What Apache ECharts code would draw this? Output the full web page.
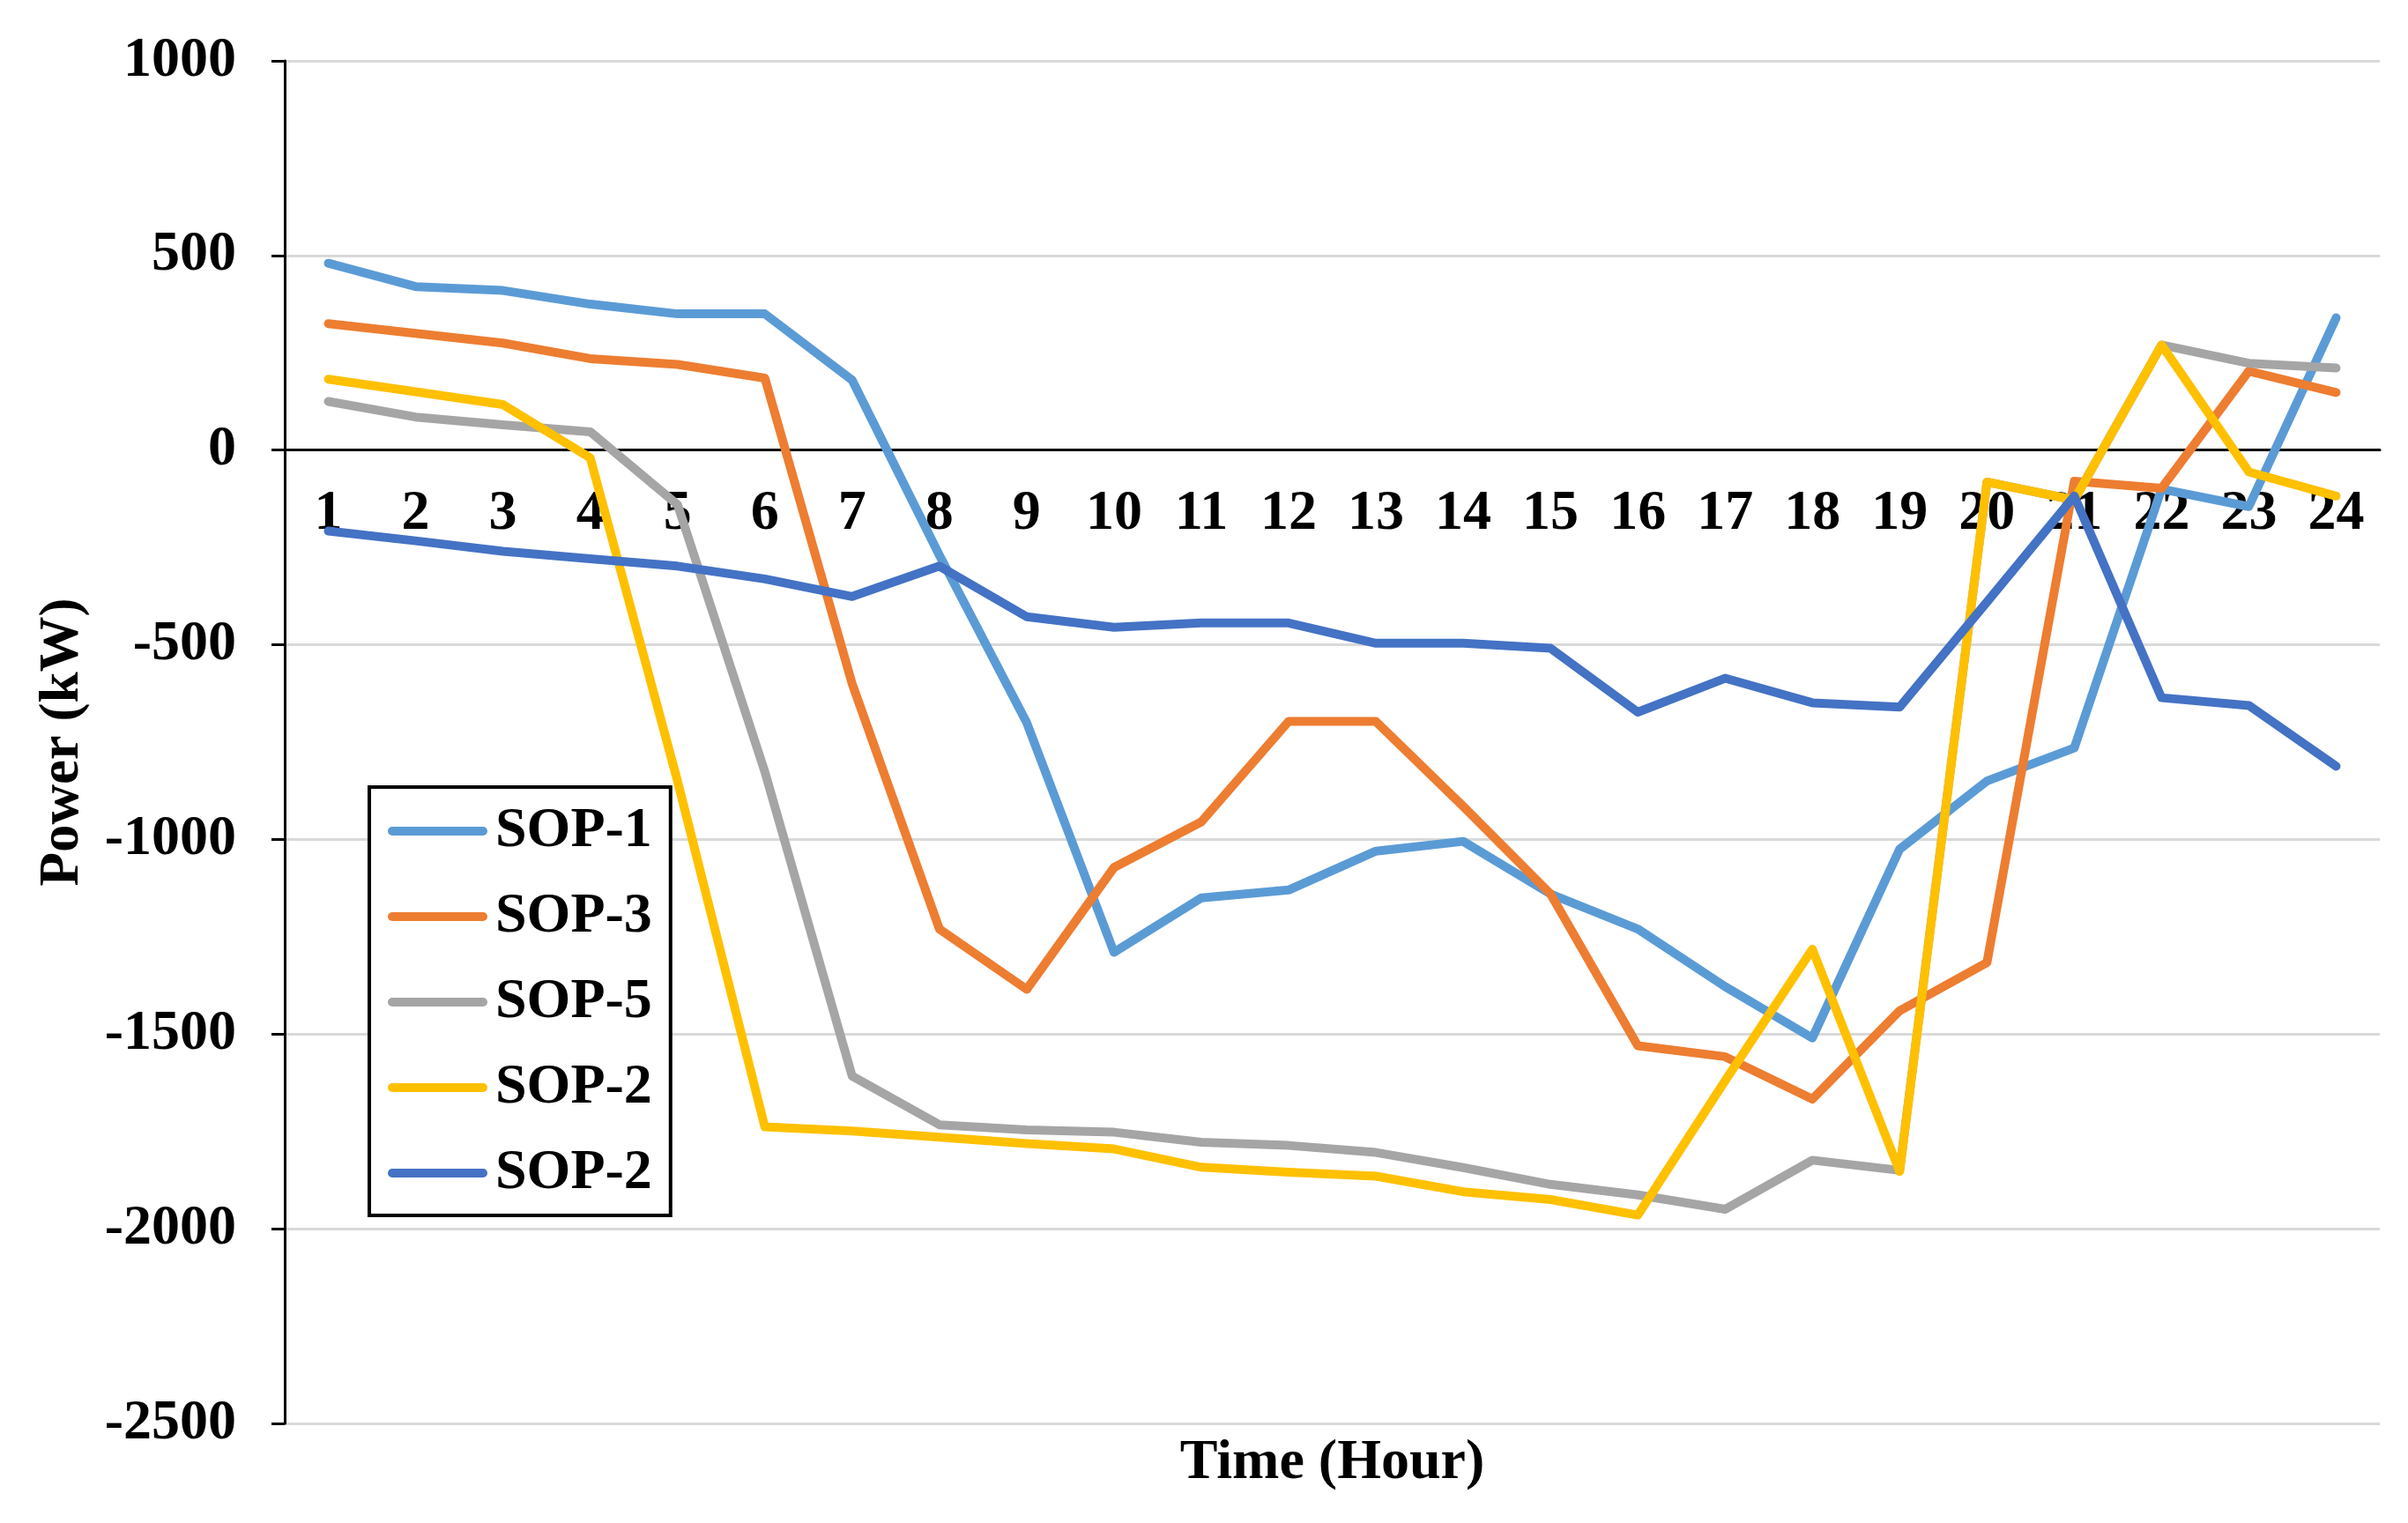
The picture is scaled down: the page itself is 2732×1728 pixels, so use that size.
<!DOCTYPE html>
<html>
<head>
<meta charset="utf-8">
<script src="https://cdn.jsdelivr.net/npm/echarts@6/dist/echarts.min.js"></script>
<style>html,body{margin:0;padding:0;background:#fff;}#c{width:2732px;height:1728px;}</style>
</head>
<body>
<div id="c"></div>
<script>
const hours = ['1','2','3','4','5','6','7','8','9','10','11','12','13','14','15','16','17','18','19','20','21','22','23','24'];
const sop1 = [480,420,410,375,350,350,180,-270,-700,-1290,-1150,-1130,-1030,-1005,-1140,-1230,-1378,-1510,-1025,-850,-765,-100,-145,340];
const sop3 = [325,300,275,235,220,185,-600,-1230,-1385,-1072,-955,-697,-697,-915,-1140,-1530,-1558,-1667,-1440,-1316,-80,-98,203,148];
const sop5 = [125,85,65,47,-140,-826,-1608,-1733,-1746,-1752,-1778,-1786,-1804,-1843,-1886,-1913,-1950,-1824,-1850,-82,-128,270,223,211];
const sop2a = [182,150,117,-20,-850,-1738,-1749,-1765,-1781,-1795,-1842,-1855,-1865,-1905,-1925,-1965,-1620,-1282,-1853,-82,-128,270,-56,-118];
const sop2b = [-208,-233,-260,-279,-298,-331,-376,-298,-428,-455,-444,-444,-496,-496,-509,-673,-586,-649,-660,-390,-118,-636,-656,-812];
const seriesNames = ['SOP-1','SOP-3','SOP-5','SOP-2','SOP-2 '];
const seriesColors = ['#5B9BD5','#ED7D31','#A5A5A5','#FFC000','#4472C4'];
const seriesData = [sop1, sop3, sop5, sop2a, sop2b];
const yTitle = 'Power (kW)';
const xTitle = 'Time (Hour)';

const FONT = 'Liberation Serif';
const FS = 64;
const ICON = 'path://M5,0 L108,0 A5,5 0 0 1 108,10 L5,10 A5,5 0 0 1 5,0 Z';
const chart = echarts.init(document.getElementById('c'));
chart.setOption({
  animation: false,
  backgroundColor: '#ffffff',
  grid: { left: 323, right: 32, top: 69, bottom: 113, containLabel: false, outerBoundsMode: 'none' },
  legend: {
    orient: 'vertical',
    left: 419, top: 893,
    padding: [18, 21, 16, 21],
    itemGap: 33,
    itemWidth: 113,
    itemHeight: 10,
    borderColor: '#000', borderWidth: 4,
    backgroundColor: '#fff',
    formatter: function (n) { return n.trim(); },
    textStyle: { fontFamily: FONT, fontWeight: 'bold', fontSize: FS, color: '#000', padding: [0,0,0,4] },
    data: seriesNames.map(function (n, i) { return { name: n, icon: ICON, itemStyle: { color: seriesColors[i] } }; })
  },
  xAxis: {
    type: 'category',
    data: hours,
    boundaryGap: true,
    axisLine: { onZero: true, lineStyle: { color: '#000', width: 3 } },
    axisTick: { show: false },
    axisLabel: { fontFamily: FONT, fontWeight: 'bold', fontSize: FS, color: '#000', margin: -1064, interval: 0 },
    splitLine: { show: false },
    name: xTitle,
    nameLocation: 'middle',
    nameGap: 13,
    nameTextStyle: { fontFamily: FONT, fontWeight: 'bold', fontSize: FS, color: '#000' }
  },
  yAxis: {
    type: 'value',
    min: -2500, max: 1000, interval: 500,
    axisLine: { show: true, lineStyle: { color: '#000', width: 3 } },
    axisTick: { show: true, length: 15, lineStyle: { color: '#000', width: 3 } },
    axisLabel: { fontFamily: FONT, fontWeight: 'bold', fontSize: FS, color: '#000', margin: 55, formatter: function (v) { return String(v); } },
    splitLine: { lineStyle: { color: '#d9d9d9', width: 3 } },
    name: yTitle,
    nameLocation: 'middle',
    nameGap: 220,
    nameTextStyle: { fontFamily: FONT, fontWeight: 'bold', fontSize: 63, color: '#000' }
  },
  series: seriesData.map(function (d, i) {
    return {
      name: seriesNames[i],
      type: 'line',
      data: d,
      symbol: 'none',
      showSymbol: false,
      itemStyle: { color: seriesColors[i] },
      lineStyle: { color: seriesColors[i], width: 10, cap: 'round', join: 'round' },
      z: 2 + i
    };
  })
});
</script>
</body>
</html>
